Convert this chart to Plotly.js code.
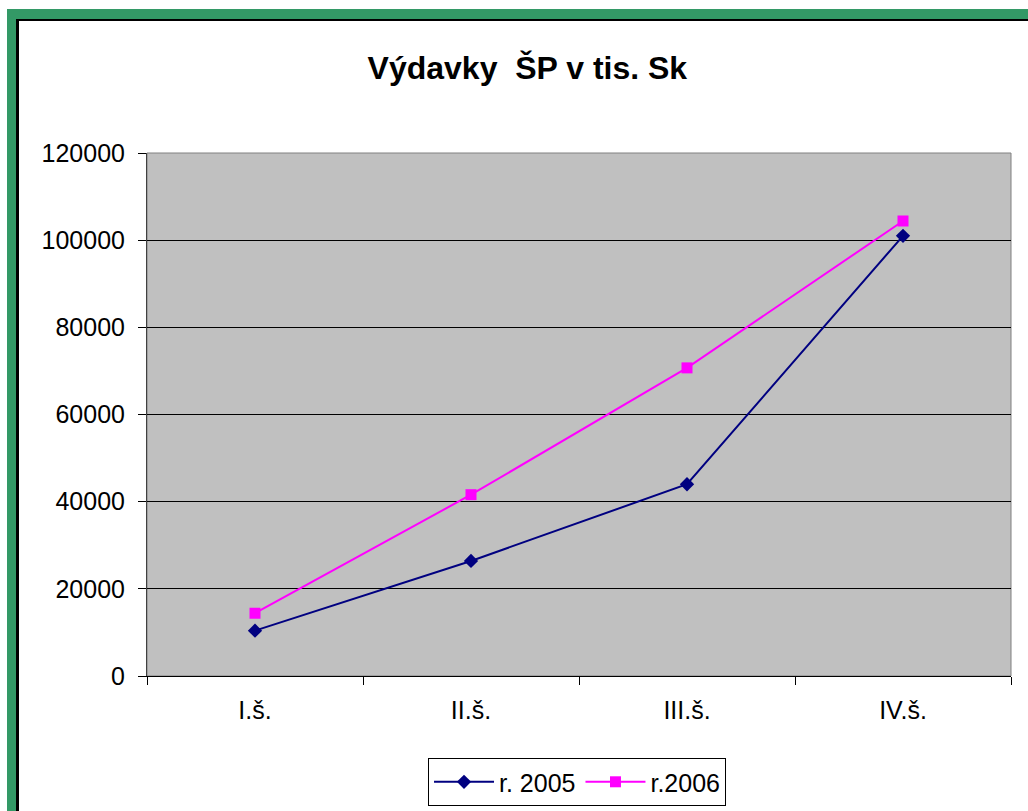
<!DOCTYPE html>
<html>
<head>
<meta charset="utf-8">
<script src="https://cdn.plot.ly/plotly-3.0.1.min.js"></script>
<style>
  html, body { margin: 0; padding: 0; width: 1028px; height: 811px; overflow: hidden; background: #ffffff; }
  #green { position: absolute; left: 7px; top: 9px; width: 1100px; height: 900px; background: #339966; }
  #inner { position: absolute; left: 16px; top: 19px; width: 1100px; height: 900px; background: #ffffff; border-left: 3px solid #000; border-top: 2px solid #000; box-sizing: border-box; }
  #chart { position: absolute; left: 0; top: 0; width: 1028px; height: 811px; }
</style>
</head>
<body>
<div id="green"></div>
<div id="inner"></div>
<div id="chart"></div>
<script>
const categories = ["I.š.", "II.š.", "III.š.", "IV.š."];
const values2005 = [10400, 26400, 44000, 101000];
const values2006 = [14400, 41600, 70700, 104400];
const seriesNames = ["r. 2005", "r.2006"];
const yTicks = [0, 20000, 40000, 60000, 80000, 100000, 120000];

const font = "Arial, 'Liberation Sans', sans-serif";

const traces = [
  {
    x: categories, y: values2005, name: seriesNames[0], type: "scatter", mode: "lines+markers",
    line: { color: "#000080", width: 2 },
    marker: { symbol: "diamond", size: 11, color: "#000080" }
  },
  {
    x: categories, y: values2006, name: seriesNames[1], type: "scatter", mode: "lines+markers",
    line: { color: "#FF00FF", width: 2 },
    marker: { symbol: "square", size: 11, color: "#FF00FF" }
  }
];

const layout = {
  width: 1028, height: 811,
  margin: { l: 147, r: 17, t: 153, b: 135, autoexpand: false },
  paper_bgcolor: "rgba(0,0,0,0)",
  plot_bgcolor: "#C0C0C0",
  font: { family: font, size: 25, color: "#000" },
  title: {
    text: "<b>Výdavky  ŠP v tis. Sk</b>",
    font: { family: font, size: 32, color: "#000" },
    x: 0.513, xanchor: "center", xref: "container",
    y: 0.917, yanchor: "middle", yref: "container"
  },
  showlegend: true,
  legend: {
    orientation: "h", x: 0.5613, xanchor: "center", xref: "container",
    y: 0.0653, yanchor: "top", yref: "container",
    bgcolor: "#ffffff", bordercolor: "#000", borderwidth: 1,
    font: { family: font, size: 25, color: "#000" },
    itemwidth: 60, traceorder: "normal"
  },
  xaxis: {
    type: "category", range: [-0.5, 3.5],
    tickson: "boundaries", ticks: "outside", ticklen: 8, tickcolor: "#000", tickwidth: 1,
    showline: true, linecolor: "#000", linewidth: 1,
    showgrid: false, zeroline: false,
    ticklabelstandoff: 12,
    tickfont: { family: font, size: 25, color: "#000" }
  },
  yaxis: {
    range: [0, 120000], tickvals: yTicks, ticktext: yTicks.map(String),
    ticks: "outside", ticklen: 8, tickcolor: "#000", tickwidth: 1,
    showline: true, linecolor: "#404040", linewidth: 1,
    showgrid: true, gridcolor: "#000", gridwidth: 1,
    zeroline: false, ticklabelstandoff: 8,
    tickfont: { family: font, size: 25, color: "#000" }
  },
  shapes: [
    { type: "rect", xref: "paper", yref: "paper", x0: 0, x1: 1, y0: 0, y1: 1,
      line: { color: "#808080", width: 1 }, fillcolor: "rgba(0,0,0,0)", layer: "below" }
  ]
};

Plotly.newPlot("chart", traces, layout, { displayModeBar: false, staticPlot: true });
</script>
</body>
</html>
